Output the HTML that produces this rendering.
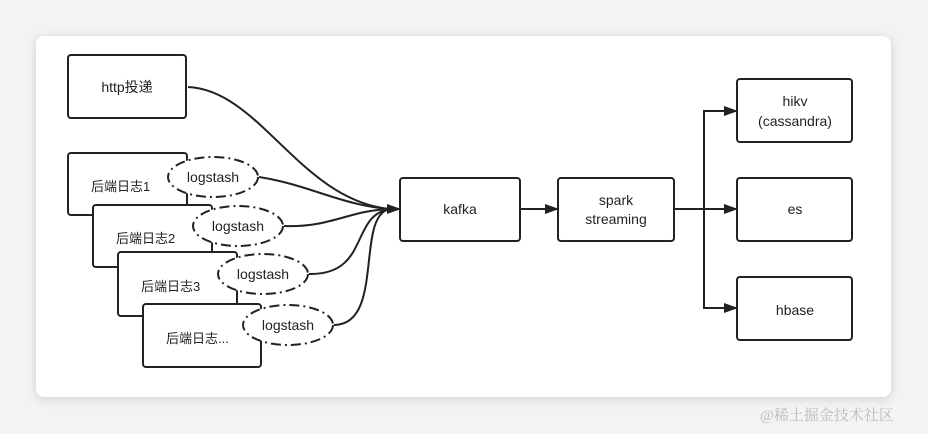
<!DOCTYPE html>
<html><head><meta charset="utf-8"><style>
body{margin:0;width:928px;height:434px;background:#f3f3f3;overflow:hidden;font-family:"Liberation Sans","Noto Sans CJK SC",sans-serif}
.card{position:absolute;left:36px;top:36px;width:855px;height:361px;background:#fff;border-radius:8px;box-shadow:0 2px 10px rgba(0,0,0,0.15)}
.wm{position:absolute;left:760px;top:404px;font-size:15px;color:#bbb;font-family:"Liberation Serif","Noto Serif CJK SC",serif}
</style></head><body>
<div class="card"></div>
<svg width="928" height="434" style="position:absolute;left:0;top:0" font-family="Liberation Sans, Noto Sans CJK SC, sans-serif" font-size="14" fill="#222">
<defs><marker id="a" markerWidth="14" markerHeight="10" refX="13" refY="5" orient="auto" markerUnits="userSpaceOnUse"><path d="M0,0L14,5L0,10z" fill="#222"/></marker></defs>
<g stroke="#222" stroke-width="2" fill="#fff">
<rect x="68" y="55" width="118" height="63" rx="3"/>
<rect x="68" y="153" width="119" height="62" rx="3"/>
<rect x="93" y="205" width="119" height="62" rx="3"/>
<rect x="118" y="252" width="119" height="64" rx="3"/>
<rect x="143" y="304" width="118" height="63" rx="3"/>
<g stroke-dasharray="10,4,2,4">
<ellipse cx="213" cy="177" rx="45" ry="20"/>
<ellipse cx="238" cy="226" rx="45" ry="20"/>
<ellipse cx="263" cy="274" rx="45" ry="20"/>
<ellipse cx="288" cy="325" rx="45" ry="20"/>
</g>
<rect x="400" y="178" width="120" height="63" rx="3"/>
<rect x="558" y="178" width="116" height="63" rx="3"/>
<rect x="737" y="79" width="115" height="63" rx="3"/>
<rect x="737" y="178" width="115" height="63" rx="3"/>
<rect x="737" y="277" width="115" height="63" rx="3"/>
</g>
<g stroke="#222" stroke-width="2" fill="none">
<path d="M188,87 C260,90 300,200 390,209"/>
<path d="M259,177 C310,185 340,205 390,209"/>
<path d="M284,226 C330,228 350,210 390,209"/>
<path d="M309,274 C370,275 350,215 390,209"/>
<path d="M334,325 C385,325 355,215 390,209"/>
<path d="M386,209 L400,209" marker-end="url(#a)"/>
<path d="M520,209 L558,209" marker-end="url(#a)"/>
<path d="M674,209 L737,209" marker-end="url(#a)"/>
<path d="M704,209 L704,111 L737,111" marker-end="url(#a)"/>
<path d="M704,209 L704,308 L737,308" marker-end="url(#a)"/>
</g>
<g text-anchor="middle">
<text x="127" y="92">http投递</text>
<text x="213" y="182">logstash</text>
<text x="238" y="231">logstash</text>
<text x="263" y="279">logstash</text>
<text x="288" y="330">logstash</text>
<text x="460" y="214">kafka</text>
<text x="616" y="205">spark</text>
<text x="616" y="224">streaming</text>
<text x="795" y="106">hikv</text>
<text x="795" y="126">(cassandra)</text>
<text x="795" y="214">es</text>
<text x="795" y="315">hbase</text>
</g>
<g font-size="13">
<text x="91" y="191">后端日志1</text>
<text x="116" y="243">后端日志2</text>
<text x="141" y="291">后端日志3</text>
<text x="166" y="343">后端日志...</text>
</g>
</svg>
<div class="wm">@稀土掘金技术社区</div>
</body></html>
